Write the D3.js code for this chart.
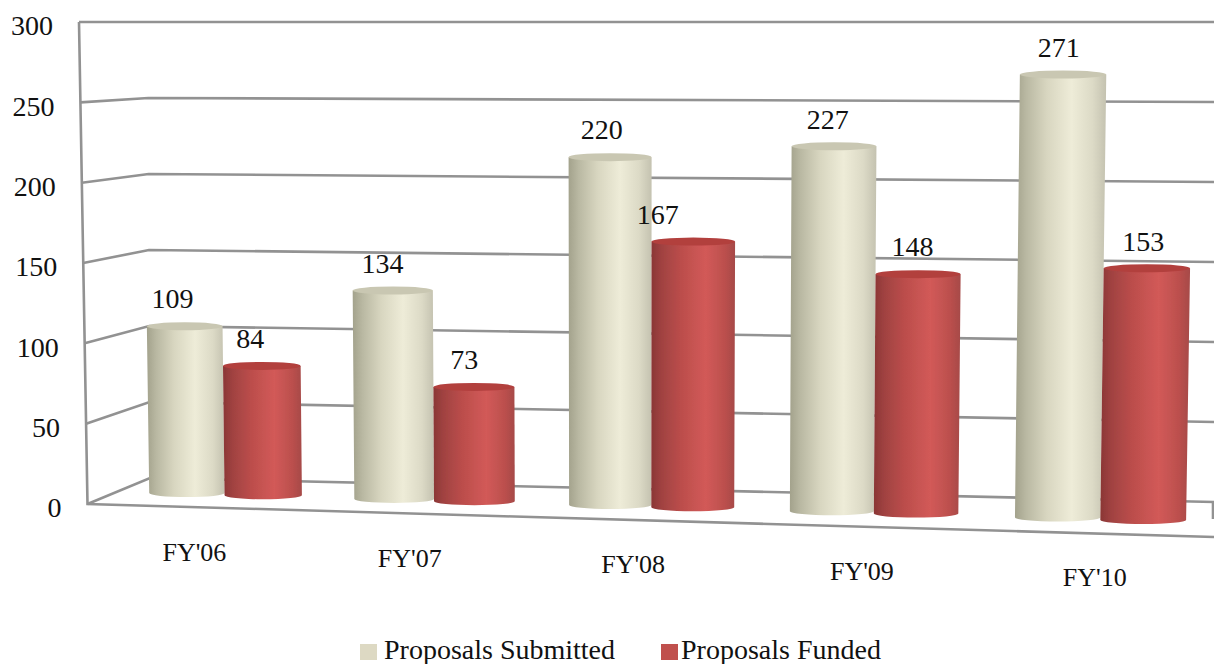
<!DOCTYPE html>
<html><head><meta charset="utf-8">
<script src="https://cdn.jsdelivr.net/npm/d3@7"></script>
<style>
html,body{margin:0;padding:0;background:#fff;overflow:hidden}
svg{display:block}
text{font-family:"Liberation Serif",serif;font-size:28px;fill:#111}
</style></head><body>
<script>
const categories = ["FY'06","FY'07","FY'08","FY'09","FY'10"];
const submitted = [109,134,220,227,271];
const funded = [84,73,167,148,153];
const yTicks = [0,50,100,150,200,250,300];
const seriesNames = ["Proposals Submitted","Proposals Funded"];
const seriesColors = ["#ddd9c3","#c0504d"];

const W=1214,H=664;
const svg=d3.select("body").append("svg").attr("width",W).attr("height",H);
const defs=svg.append("defs");
defs.append("filter").attr("id","soft").attr("x","-5%").attr("y","-5%").attr("width","110%").attr("height","110%")
  .append("feGaussianBlur").attr("stdDeviation",0.45);
function grad(id,stops){
  const g=defs.append("linearGradient").attr("id",id).attr("x1",0).attr("x2",1).attr("y1",0).attr("y2",0);
  stops.forEach(([o,c])=>g.append("stop").attr("offset",o).attr("stop-color",c));
}
grad("gSub",[[0,"#a3a28c"],[.12,"#b9b8a2"],[.35,"#d8d6c0"],[.62,"#eeecd8"],[.85,"#dcdac6"],[1,"#c4c2b0"]]);
grad("gFun",[[0,"#8a3635"],[.12,"#a04241"],[.35,"#bb4d4b"],[.65,"#d25a58"],[.88,"#bb4f4d"],[1,"#a64a48"]]);

// Wall and floor projection
const frontY=d3.scaleLinear().domain([0,300]).range([504,22]);
const frontX=d3.scaleLinear().domain([0,300]).range([87.5,79]);
const backY=d3.scaleLinear().domain([0,300]).range([478,22]);
const backX=d3.scaleLinear().domain([0,300]).range([150,148]);
const rightY=d3.scaleLinear().domain([0,300]).range([502,22]);
const floorFront=d3.scaleLinear().domain([87.5,1214]).range([504,537]);

// Category positions along the floor (perspective widens to the right)
const xPow=d3.scalePow().exponent(1.07).domain([0,6]).range([34,1330]);
const xCat=i=>xPow(i+1);
const baseY=d3.scaleLinear().domain([185,1145]).range([493,520]);
const unitH=d3.scaleLinear().domain([185,1060]).range([1.53,1.635]);
const BAR=0.375;
const lean=(x,v)=>x+(x-622)*v*4.6e-5;

const grid=svg.append("g").attr("filter","url(#soft)").attr("fill","none").attr("stroke","#929292").attr("stroke-width",2.6);
const line=d3.line();
yTicks.forEach(v=>{
  grid.append("path").attr("d",line([[frontX(v),frontY(v)],[backX(v),backY(v)],[W,rightY(v)]]));
});
grid.append("path").attr("d",line([[frontX(300),frontY(300)],[frontX(0),frontY(0)],[W,floorFront(W)]]));
grid.append("path").attr("d",line([[W-1,rightY(0)],[W-1,rightY(0)+17]]));

// Cylinders
const bars=svg.append("g").attr("filter","url(#soft)");
function cyl(v,x0,x1,gid,capFill){
  const xm=(x0+x1)/2, b=baseY(xm), h=v*unitH(xm), t=b-h, ry=4;
  const l0=x0,r0=x1,l1=lean(x0,v),r1=lean(x1,v);
  const rx0=(r0-l0)/2, rx1=(r1-l1)/2;
  bars.append("path").attr("fill",`url(#${gid})`)
    .attr("d",`M${l1},${t} L${l0},${b} A${rx0},${ry} 0 0 0 ${r0},${b} L${r1},${t} Z`);
  bars.append("ellipse").attr("cx",(l1+r1)/2).attr("cy",t).attr("rx",rx1).attr("ry",ry).attr("fill",capFill);
  return {cx:(l1+r1)/2,top:t-ry};
}
const labels=svg.append("g").attr("text-anchor","middle");
const labelShiftX=x=>(x-1100)*0.009-4;
categories.forEach((c,i)=>{
  const a=cyl(submitted[i],xCat(i-BAR),xCat(i),"gSub","#c9c7b2");
  const b=cyl(funded[i],xCat(i),xCat(i+BAR),"gFun","#b23f3e");
  labels.append("text").attr("x",a.cx+labelShiftX(a.cx)).attr("y",a.top-23).attr("dy","0.33em").text(submitted[i]);
  // the FY'08 funded label sits further left, as placed by hand in the original
  const nudge=(i===2)?-28:0;
  labels.append("text").attr("x",b.cx+labelShiftX(b.cx)+nudge).attr("y",b.top-23).attr("dy","0.33em").text(funded[i]);
});

// Value axis labels
svg.append("g").attr("text-anchor","end").selectAll("text").data(yTicks).join("text")
  .attr("x",v=>frontX(v)-26).attr("y",v=>frontY(v)+4).attr("dy","0.33em").text(v=>v);

// Category labels
svg.append("g").attr("text-anchor","middle").selectAll("text").data(categories).join("text")
  .style("font-size","26px")
  .attr("x",(d,i)=>xCat(i)+(xCat(i)-1300)*0.028)
  .attr("y",(d,i)=>floorFront(xCat(i))+44)
  .attr("dy","0.33em").text(d=>d);

// Legend
const legendX=[360,661];
const legend=svg.append("g");
seriesNames.forEach((n,i)=>{
  legend.append("rect").attr("x",legendX[i]).attr("y",644).attr("width",17).attr("height",16).attr("fill",seriesColors[i]);
  legend.append("text").attr("x",legendX[i]+(i?20:24)).attr("y",659).text(n);
});
</script>
</body></html>
